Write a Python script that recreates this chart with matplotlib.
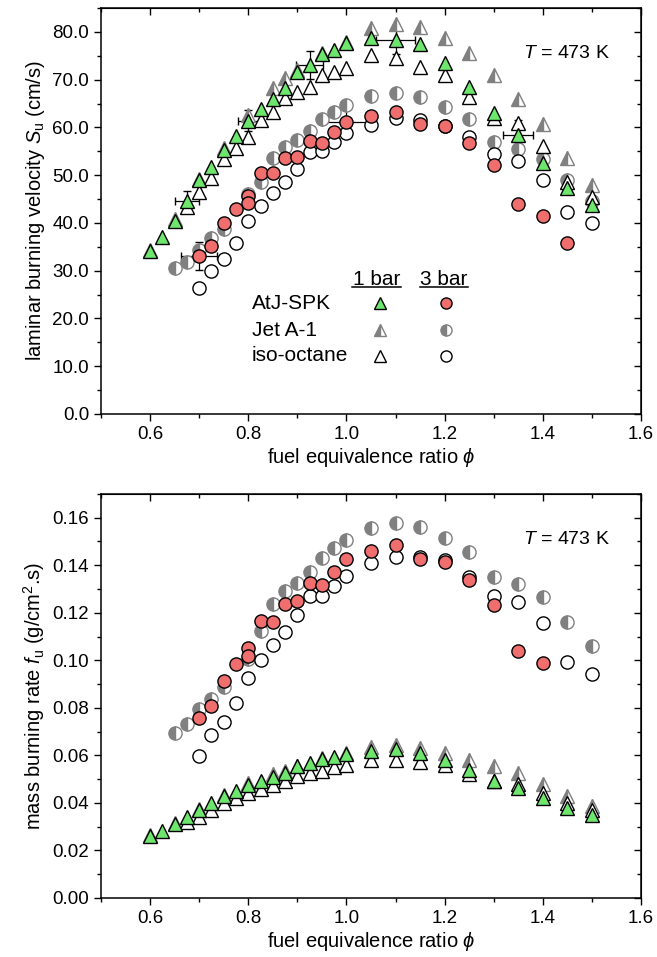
import matplotlib
matplotlib.use("Agg")
import matplotlib.pyplot as plt
from matplotlib.ticker import MultipleLocator, FormatStrFormatter

plt.rcParams['font.family'] = ['Liberation Sans', 'DejaVu Sans']
plt.rcParams['mathtext.fontset'] = 'custom'
plt.rcParams['mathtext.rm'] = 'Liberation Sans'
plt.rcParams['mathtext.it'] = 'Liberation Sans:italic'

GREEN = '#6ee66e'
RED = '#f06e6e'
GREY = '#808080'

# ---- laminar burning velocity, cm/s ----
phi_atj1 = [0.6, 0.625, 0.65, 0.675, 0.7, 0.725, 0.75, 0.775, 0.8, 0.825, 0.85, 0.875, 0.9, 0.925,
            0.95, 0.975, 1.0, 1.05, 1.1, 1.15, 1.2, 1.25, 1.3, 1.35, 1.4, 1.45, 1.5]
su_atj1 = [34.2, 37.0, 40.4, 44.7, 49.0, 51.8, 55.3, 58.2, 61.4, 63.9, 65.9, 68.3, 71.7, 73.1,
           75.3, 76.2, 77.6, 78.7, 78.4, 77.4, 73.4, 68.4, 63.0, 58.4, 52.5, 47.3, 43.8]

phi_jet1 = [0.6, 0.65, 0.7, 0.75, 0.8, 0.85, 0.875, 0.9, 0.95, 1.0, 1.05, 1.1, 1.15, 1.2, 1.25,
            1.3, 1.35, 1.4, 1.45, 1.5]
su_jet1 = [34.4, 40.8, 49.3, 55.6, 62.6, 68.2, 70.3, 72.0, 75.5, 77.9, 80.8, 81.7, 81.0, 78.7, 75.5,
           71.0, 66.0, 60.7, 53.7, 48.0]

phi_iso1 = [0.675, 0.7, 0.725, 0.75, 0.775, 0.8, 0.825, 0.85, 0.875, 0.9, 0.925, 0.95, 0.975, 1.0,
            1.05, 1.1, 1.15, 1.2, 1.25, 1.3, 1.35, 1.4, 1.45, 1.5]
su_iso1 = [43.4, 46.4, 49.4, 53.3, 55.6, 57.9, 61.6, 63.2, 66.1, 67.5, 68.4, 71.0, 71.7, 72.4,
           75.2, 74.5, 72.7, 71.0, 66.4, 62.0, 60.9, 56.1, 48.5, 45.5]

phi_atj3 = [0.7, 0.725, 0.75, 0.775, 0.8, 0.8, 0.825, 0.85, 0.875, 0.9, 0.925, 0.95, 0.975, 1.0,
            1.05, 1.1, 1.15, 1.2, 1.25, 1.3, 1.35, 1.4, 1.45]
su_atj3 = [33.1, 35.2, 39.9, 42.9, 45.6, 44.2, 50.5, 50.4, 53.5, 53.9, 57.2, 56.7, 59.0, 61.2,
           62.3, 63.3, 60.7, 60.2, 56.7, 52.1, 44.0, 41.5, 35.8]

phi_jet3 = [0.65, 0.675, 0.7, 0.725, 0.75, 0.8, 0.825, 0.85, 0.875, 0.9, 0.925, 0.95, 0.975, 1.0,
            1.05, 1.1, 1.15, 1.2, 1.25, 1.3, 1.35, 1.4, 1.45, 1.5]
su_jet3 = [30.5, 31.9, 34.3, 36.8, 38.7, 46.0, 48.6, 53.7, 56.0, 57.4, 59.3, 61.8, 63.3, 64.7,
           66.6, 67.3, 66.4, 64.3, 61.8, 57.0, 55.5, 53.3, 49.0, 44.5]

phi_iso3 = [0.7, 0.725, 0.75, 0.775, 0.8, 0.825, 0.85, 0.875, 0.9, 0.925, 0.95, 0.975, 1.0,
            1.05, 1.1, 1.15, 1.2, 1.25, 1.3, 1.35, 1.4, 1.45, 1.5]
su_iso3 = [26.3, 30.0, 32.4, 35.7, 40.4, 43.5, 46.3, 48.6, 51.4, 54.9, 55.1, 57.0, 58.8,
           60.6, 61.9, 61.6, 60.3, 57.9, 54.4, 53.0, 49.0, 42.2, 40.0]

# error bars (phi, Su, dphi, dSu)
err_phi_1 = [0.675, 0.8, 0.925, 1.1, 1.35]
err_su_1 = [44.7, 61.4, 73.1, 78.4, 58.4]
err_dphi_1 = [0.025, 0.021, 0.027, 0.04, 0.031]
err_dsu_1 = [2.0, 2.2, 3.0, 3.0, 3.2]
err_phi_3 = [0.7, 1.0]
err_su_3 = [33.1, 61.2]
err_dphi_3 = [0.036, 0.05]
err_dsu_3 = [3.0, 3.0]

# ---- mass burning rate, g/cm2 s ----
fu_atj1 = [0.026, 0.028, 0.031, 0.034, 0.037, 0.040, 0.043, 0.0449, 0.0474, 0.0491, 0.0508, 0.0526,
           0.0554, 0.0566, 0.0583, 0.0594, 0.0604, 0.0617, 0.0625, 0.061, 0.058, 0.054, 0.0491,
           0.0463, 0.0421, 0.0379, 0.035]
fu_jet1 = [0.0265, 0.0315, 0.0375, 0.0435, 0.0485, 0.052, 0.0535, 0.0555, 0.0588, 0.061, 0.0635,
           0.0642, 0.0632, 0.061, 0.058, 0.0555, 0.0525, 0.0481, 0.0427, 0.0385]
fu_iso1 = [0.032, 0.034, 0.037, 0.040, 0.042, 0.044, 0.046, 0.0475, 0.049, 0.0512, 0.0524, 0.0536,
           0.055, 0.0561, 0.058, 0.058, 0.0572, 0.056, 0.052, 0.049, 0.0478, 0.0442, 0.040, 0.0368]

phi_atj3_f = [0.7, 0.725, 0.75, 0.775, 0.8, 0.8, 0.825, 0.85, 0.875, 0.9, 0.925, 0.95, 0.975, 1.0,
              1.05, 1.1, 1.15, 1.2, 1.25, 1.3, 1.35, 1.4]
fu_atj3 = [0.0758, 0.0807, 0.0913, 0.0986, 0.105, 0.1019, 0.1166, 0.116, 0.1237, 0.1251, 0.1325,
           0.1317, 0.1373, 0.1427, 0.1458, 0.1483, 0.1427, 0.1413, 0.1338, 0.1233, 0.104, 0.099]
fu_jet3 = [0.0695, 0.073, 0.0794, 0.0836, 0.0888, 0.1005, 0.1124, 0.1237, 0.1293, 0.1324, 0.137,
           0.1431, 0.1473, 0.1504, 0.1556, 0.1577, 0.156, 0.1515, 0.1455, 0.1349, 0.1321, 0.1265,
           0.116, 0.1061]
fu_iso3 = [0.0596, 0.0684, 0.074, 0.0821, 0.0927, 0.1, 0.1064, 0.1121, 0.119, 0.1269, 0.1272,
           0.1311, 0.1356, 0.1408, 0.1436, 0.1433, 0.142, 0.1349, 0.1271, 0.1244, 0.1155, 0.0993,
           0.0944]

fuels = ['AtJ-SPK', 'Jet A-1', 'iso-octane']
pressures = ['1 bar', '3 bar']

# marker styles per (fuel, pressure)
style = {
    ('AtJ-SPK', 1): dict(marker='^', mfc=GREEN, mec='black'),
    ('Jet A-1', 1): dict(marker='^', mfc=GREY, mfcalt='white', mec=GREY, fillstyle='left'),
    ('iso-octane', 1): dict(marker='^', mfc='white', mec='black'),
    ('AtJ-SPK', 3): dict(marker='o', mfc=RED, mec='black'),
    ('Jet A-1', 3): dict(marker='o', mfc=GREY, mfcalt='white', mec=GREY, fillstyle='left'),
    ('iso-octane', 3): dict(marker='o', mfc='white', mec='black'),
}


def pts(ax, x, y, key, size=None, **kw):
    s = dict(style[key])
    ms = size if size else (10.5 if s['marker'] == '^' else 9.5)
    ax.plot(x, y, ls='none', marker=s['marker'], ms=ms, mfc=s['mfc'],
            mfcalt=s.get('mfcalt', 'none'), mec=s['mec'], mew=1.0,
            fillstyle=s.get('fillstyle', 'full'), **kw)


def frame(ax, ymax, ymaj, ymin, fmt):
    ax.set_xlim(0.5, 1.6)
    ax.set_ylim(0, ymax)
    ax.xaxis.set_major_locator(MultipleLocator(0.2))
    ax.xaxis.set_minor_locator(MultipleLocator(0.1))
    ax.yaxis.set_major_locator(MultipleLocator(ymaj))
    ax.yaxis.set_minor_locator(MultipleLocator(ymin))
    ax.yaxis.set_major_formatter(FormatStrFormatter(fmt))
    ax.tick_params(which='both', direction='out', top=False, right=False, width=1.0,
                   labelsize=13.5)
    ax.tick_params(which='major', length=5)
    ax.tick_params(which='minor', length=3)
    for sp in ax.spines.values():
        sp.set_linewidth(1.1)
    # mirrored ticks pointing inwards on top and right
    top = ax.secondary_xaxis('top')
    top.xaxis.set_major_locator(MultipleLocator(0.2))
    top.xaxis.set_minor_locator(MultipleLocator(0.1))
    top.tick_params(which='both', direction='in', labeltop=False, width=1.0)
    top.tick_params(which='major', length=5)
    top.tick_params(which='minor', length=3)
    right = ax.secondary_yaxis('right')
    right.yaxis.set_major_locator(MultipleLocator(ymaj))
    right.yaxis.set_minor_locator(MultipleLocator(ymin))
    right.tick_params(which='both', direction='in', labelright=False, width=1.0)
    right.tick_params(which='major', length=5)
    right.tick_params(which='minor', length=3)
    ax.set_xlabel(r'fuel equivalence ratio $\phi$', fontsize=14.5, labelpad=2)
    ax.text(0.862, 0.888, r'$T$ = 473 K', transform=ax.transAxes, fontsize=14,
            ha='center', va='center')


fig = plt.figure(figsize=(6.57, 9.57), dpi=100)
ax1 = fig.add_axes([0.1537, 0.5674, 0.8219, 0.4242])
ax2 = fig.add_axes([0.1537, 0.0617, 0.8219, 0.4222])

# top panel
ax1.errorbar(err_phi_1, err_su_1, xerr=err_dphi_1, yerr=err_dsu_1, fmt='none', ecolor='black',
             elinewidth=0.9, capsize=3, zorder=1)
ax1.errorbar(err_phi_3, err_su_3, xerr=err_dphi_3, yerr=err_dsu_3, fmt='none', ecolor='black',
             elinewidth=0.9, capsize=3, zorder=1)
pts(ax1, phi_jet3, su_jet3, ('Jet A-1', 3), zorder=2)
pts(ax1, phi_iso3, su_iso3, ('iso-octane', 3), zorder=2)
pts(ax1, phi_atj3, su_atj3, ('AtJ-SPK', 3), zorder=3)
pts(ax1, phi_jet1, su_jet1, ('Jet A-1', 1), zorder=2)
pts(ax1, phi_iso1, su_iso1, ('iso-octane', 1), zorder=2)
pts(ax1, phi_atj1, su_atj1, ('AtJ-SPK', 1), zorder=3)
frame(ax1, 85, 10, 5, '%.1f')
ax1.set_ylabel(r'laminar burning velocity $S_\mathrm{u}$ (cm/s)', fontsize=14.5, labelpad=4)

# legend table drawn by hand
col_x = [0.5167, 0.6383]
row_y = [0.2727, 0.2069, 0.1436]
head_x = [0.5106, 0.635]
for i, p in enumerate(pressures):
    ax1.text(head_x[i], 0.332, p, transform=ax1.transAxes, fontsize=15, ha='center', va='center')
    ax1.plot([head_x[i] - 0.045, head_x[i] + 0.045], [0.313, 0.313], color='black', lw=1.1,
             transform=ax1.transAxes, clip_on=False)
for j, f in enumerate(fuels):
    ax1.text(0.279, row_y[j], f, transform=ax1.transAxes, fontsize=15, ha='left', va='center')
    for i, p in enumerate([1, 3]):
        pts(ax1, [col_x[i]], [row_y[j]], (f, p), size=8, transform=ax1.transAxes, zorder=4)

# bottom panel
pts(ax2, phi_jet3, fu_jet3, ('Jet A-1', 3), zorder=2)
pts(ax2, phi_iso3, fu_iso3, ('iso-octane', 3), zorder=2)
pts(ax2, phi_atj3_f, fu_atj3, ('AtJ-SPK', 3), zorder=3)
pts(ax2, phi_jet1, fu_jet1, ('Jet A-1', 1), zorder=2)
pts(ax2, phi_iso1, fu_iso1, ('iso-octane', 1), zorder=2)
pts(ax2, phi_atj1, fu_atj1, ('AtJ-SPK', 1), zorder=3)
frame(ax2, 0.17, 0.02, 0.01, '%.2f')
ax2.set_ylabel(r'mass burning rate $f_\mathrm{u}$ (g/cm$^2$.s)', fontsize=14.5, labelpad=4)

fig.savefig('out.png', dpi=100)
